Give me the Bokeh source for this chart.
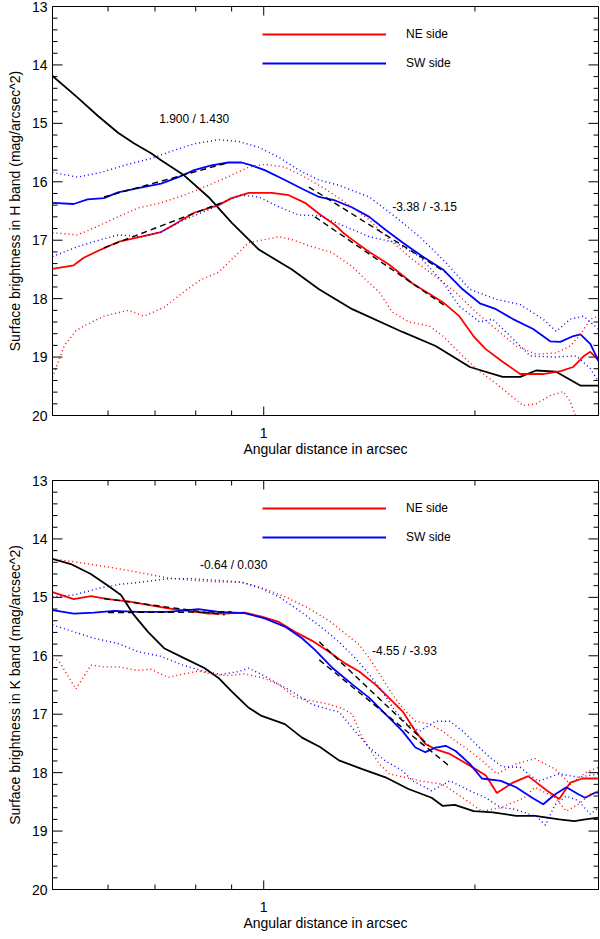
from bokeh.plotting import figure
from bokeh.layouts import column
from bokeh.models import (Range1d, FixedTicker, BasicTickFormatter, Legend, LegendItem)
from bokeh.core.properties import value
from bokeh.embed import file_html
from bokeh.resources import INLINE

FONT = "Liberation Sans"

# ---------------- H band (top panel) ----------------
h_psf_x = [0.50, 0.543, 0.58, 0.62, 0.653, 0.691, 0.714, 0.77, 0.834, 0.90, 0.984, 1.097,
           1.199, 1.337, 1.577, 1.758, 1.967, 2.19, 2.32, 2.444, 2.61, 2.83, 3.0]
h_psf_y = [14.19, 14.56, 14.87, 15.16, 15.34, 15.51, 15.63, 15.89, 16.26, 16.70, 17.16, 17.50,
           17.84, 18.18, 18.57, 18.81, 19.17, 19.34, 19.34, 19.23, 19.25, 19.49, 19.49]

h_ne_x = [0.50, 0.536, 0.554, 0.586, 0.62, 0.669, 0.714, 0.756, 0.796, 0.862, 0.90, 0.952,
          1.027, 1.086, 1.145, 1.20, 1.264, 1.30, 1.337, 1.414, 1.51, 1.63, 1.80, 1.90, 1.99,
          2.07, 2.19, 2.32, 2.50, 2.65, 2.76, 2.86, 2.92, 3.0]
h_ne_y = [17.49, 17.43, 17.30, 17.16, 17.03, 16.94, 16.86, 16.69, 16.53, 16.40, 16.28, 16.19,
          16.19, 16.23, 16.36, 16.55, 16.74, 16.88, 16.99, 17.20, 17.42, 17.74, 18.06, 18.30,
          18.64, 18.86, 19.08, 19.29, 19.29, 19.24, 19.17, 18.98, 18.91, 19.05]

h_sw_x = [0.50, 0.536, 0.561, 0.592, 0.62, 0.662, 0.714, 0.756, 0.796, 0.842, 0.891, 0.93,
          0.961, 1.003, 1.072, 1.134, 1.199, 1.264, 1.337, 1.414, 1.491, 1.577, 1.684, 1.80,
          1.921, 2.032, 2.143, 2.266, 2.421, 2.56, 2.646, 2.763, 2.828, 2.922, 3.0]
h_sw_y = [16.36, 16.38, 16.30, 16.28, 16.18, 16.11, 16.03, 15.92, 15.80, 15.72, 15.67, 15.67,
          15.72, 15.80, 15.97, 16.12, 16.26, 16.32, 16.44, 16.60, 16.82, 17.04, 17.28, 17.50,
          17.84, 18.08, 18.18, 18.35, 18.52, 18.73, 18.74, 18.64, 18.61, 18.78, 19.07]

h_sw_hi_x = [0.50, 0.543, 0.586, 0.632, 0.691, 0.746, 0.796, 0.862, 0.921, 0.984, 1.051, 1.122,
             1.199, 1.28, 1.414, 1.54, 1.668, 1.817, 1.967, 2.143, 2.32, 2.50, 2.612, 2.735,
             2.855, 3.0]
h_sw_hi_y = [15.84, 15.92, 15.84, 15.72, 15.60, 15.46, 15.35, 15.28, 15.31, 15.41, 15.58, 15.80,
             15.97, 16.06, 16.26, 16.60, 16.94, 17.38, 17.84, 18.01, 18.10, 18.35, 18.56, 18.35,
             18.30, 18.52]

h_sw_lo_x = [0.50, 0.543, 0.586, 0.62, 0.669, 0.714, 0.77, 0.834, 0.891, 0.93, 0.984, 1.051,
             1.122, 1.199, 1.28, 1.414, 1.54, 1.668, 1.80, 1.90, 2.032, 2.12, 2.244, 2.398,
             2.586, 2.79, 2.922, 3.0]
h_sw_lo_y = [17.28, 17.11, 16.99, 16.91, 16.94, 16.86, 16.65, 16.48, 16.31, 16.23, 16.26, 16.43,
             16.57, 16.58, 16.72, 16.94, 17.04, 17.28, 17.72, 18.13, 18.40, 18.35, 18.64, 18.98,
             19.00, 18.98, 19.20, 19.42]

h_ne_hi_x = [0.50, 0.543, 0.573, 0.62, 0.662, 0.714, 0.77, 0.834, 0.891, 0.952, 1.003, 1.072,
             1.145, 1.223, 1.306, 1.414, 1.51, 1.63, 1.758, 1.877, 2.006, 2.143, 2.289, 2.444,
             2.612, 2.735, 2.828, 2.922, 3.0]
h_ne_hi_y = [16.87, 16.91, 16.79, 16.60, 16.45, 16.36, 16.23, 16.06, 15.91, 15.75, 15.70, 15.75,
             15.92, 16.12, 16.35, 16.65, 16.99, 17.33, 17.62, 17.89, 18.23, 18.52, 18.81, 18.95,
             18.93, 18.81, 18.61, 18.35, 18.30]

h_ne_lo_x = [0.50, 0.52, 0.54, 0.554, 0.592, 0.641, 0.675, 0.721, 0.770, 0.815, 0.862, 0.90,
             0.952, 1.003, 1.051, 1.097, 1.171, 1.251, 1.337, 1.382, 1.461, 1.525, 1.613, 1.723,
             1.80, 1.921, 2.006, 2.10, 2.214, 2.342, 2.444, 2.56, 2.673, 2.735, 2.79]
h_ne_lo_y = [19.35, 18.80, 18.55, 18.47, 18.30, 18.20, 18.30, 18.15, 17.88, 17.67, 17.55, 17.33,
             17.04, 16.99, 16.94, 16.99, 17.11, 17.21, 17.45, 17.62, 17.89, 18.23, 18.40, 18.47,
             18.64, 18.98, 19.20, 19.37, 19.59, 19.83, 19.80, 19.66, 19.59, 19.76, 20.05]

# power-law fits (inner NE, inner SW, outer NE, outer SW)
h_fit_x0 = [0.592, 0.592, 1.183, 1.16]
h_fit_x1 = [0.87, 0.891, 1.817, 1.817]
h_fit_y0 = [17.13, 16.26, 16.60, 16.09]
h_fit_y1 = [16.36, 15.67, 18.13, 17.55]

h_note_x = [0.796, 1.695]
h_note_y = [14.92, 16.43]
h_notes = ["1.900 / 1.430", "-3.38 / -3.15"]

# ---------------- K band (bottom panel) ----------------
k_psf_x = [0.50, 0.531, 0.567, 0.60, 0.626, 0.653, 0.684, 0.721, 0.770, 0.823, 0.862, 0.90,
           0.952, 0.993, 1.072, 1.134, 1.203, 1.28, 1.382, 1.491, 1.608, 1.735, 1.80, 1.872,
           1.992, 2.121, 2.289, 2.437, 2.637, 2.771, 2.873, 3.0]
k_psf_y = [14.34, 14.43, 14.60, 14.80, 14.96, 15.30, 15.59, 15.87, 16.04, 16.21, 16.38, 16.61,
           16.89, 17.03, 17.17, 17.40, 17.56, 17.79, 17.94, 18.08, 18.28, 18.43, 18.57, 18.55,
           18.66, 18.68, 18.74, 18.74, 18.80, 18.83, 18.80, 18.77]

k_ne_x = [0.50, 0.536, 0.567, 0.60, 0.641, 0.684, 0.731, 0.789, 0.834, 0.88, 0.939, 0.993,
          1.051, 1.108, 1.171, 1.239, 1.306, 1.368, 1.442, 1.491, 1.577, 1.645, 1.70, 1.758,
          1.842, 1.967, 2.073, 2.149, 2.266, 2.382, 2.535, 2.637, 2.735, 2.846, 3.0]
k_ne_y = [14.91, 15.03, 14.98, 15.03, 15.07, 15.13, 15.19, 15.24, 15.28, 15.28, 15.26, 15.33,
          15.42, 15.59, 15.74, 15.93, 16.13, 16.27, 16.49, 16.66, 16.95, 17.29, 17.51, 17.60,
          17.68, 17.88, 18.05, 18.35, 18.17, 18.06, 18.31, 18.45, 18.17, 18.10, 18.10]

k_sw_x = [0.50, 0.536, 0.573, 0.612, 0.662, 0.731, 0.807, 0.862, 0.939, 1.003, 1.072, 1.134,
          1.183, 1.251, 1.337, 1.414, 1.491, 1.577, 1.645, 1.70, 1.758, 1.817, 1.877, 1.967,
          2.046, 2.178, 2.289, 2.413, 2.502, 2.603, 2.70, 2.808, 2.87, 2.97, 3.0]
k_sw_y = [15.22, 15.28, 15.26, 15.23, 15.25, 15.25, 15.20, 15.25, 15.27, 15.36, 15.50, 15.70,
          15.90, 16.20, 16.49, 16.72, 17.00, 17.29, 17.57, 17.65, 17.57, 17.54, 17.63, 17.85,
          18.10, 18.14, 18.25, 18.43, 18.54, 18.37, 18.25, 18.37, 18.43, 18.34, 18.34]

k_ne_hi_x = [0.50, 0.543, 0.60, 0.662, 0.731, 0.796, 0.87, 0.93, 1.003, 1.072, 1.16, 1.239,
             1.30, 1.368, 1.414, 1.475, 1.525, 1.577, 1.645, 1.723, 1.80, 1.877, 1.967, 2.05,
             2.149, 2.289, 2.437, 2.603, 2.735, 2.873, 3.0]
k_ne_hi_y = [14.34, 14.40, 14.48, 14.57, 14.67, 14.71, 14.74, 14.74, 14.85, 14.99, 15.19, 15.40,
             15.60, 15.81, 16.04, 16.38, 16.66, 16.89, 17.12, 17.17, 17.29, 17.46, 17.63, 17.80,
             18.02, 17.85, 17.76, 17.94, 18.20, 18.00, 17.91]

k_sw_hi_x = [0.50, 0.536, 0.58, 0.62, 0.669, 0.731, 0.789, 0.862, 0.93, 0.993, 1.051, 1.122,
             1.199, 1.28, 1.35, 1.414, 1.475, 1.54, 1.60, 1.668, 1.758, 1.842, 1.921, 2.006,
             2.10, 2.19, 2.32, 2.46, 2.637, 2.808, 3.0]
k_sw_hi_y = [14.99, 14.96, 14.85, 14.78, 14.74, 14.68, 14.68, 14.71, 14.74, 14.85, 14.99, 15.22,
             15.48, 15.76, 16.04, 16.32, 16.61, 16.95, 17.17, 17.29, 17.12, 17.12, 17.29, 17.51,
             17.74, 17.90, 17.91, 18.15, 18.02, 18.08, 18.02]

k_sw_lo_x = [0.50, 0.536, 0.573, 0.62, 0.662, 0.714, 0.763, 0.823, 0.87, 0.921, 0.952, 0.993,
             1.051, 1.097, 1.171, 1.239, 1.28, 1.35, 1.414, 1.491, 1.577, 1.63, 1.735, 1.842,
             1.967, 2.073, 2.178, 2.266, 2.45, 2.52, 2.60, 2.70, 2.808, 2.92, 3.0]
k_sw_lo_y = [15.47, 15.59, 15.70, 15.79, 15.93, 16.01, 16.15, 16.27, 16.32, 16.27, 16.21, 16.32,
             16.49, 16.61, 16.83, 16.92, 16.96, 17.29, 17.57, 17.80, 17.97, 18.14, 18.31, 18.14,
             18.31, 18.43, 18.60, 18.62, 18.75, 18.90, 18.55, 18.40, 18.48, 18.71, 18.60]

k_ne_lo_x = [0.50, 0.51, 0.54, 0.567, 0.592, 0.62, 0.662, 0.691, 0.731, 0.770, 0.807, 0.842,
             0.891, 0.939, 0.993, 1.051, 1.108, 1.171, 1.239, 1.293, 1.337, 1.382, 1.461, 1.51,
             1.668, 1.80, 1.921, 2.046, 2.178, 2.35, 2.437, 2.603, 2.70, 2.808, 2.92, 3.0]
k_ne_lo_y = [16.05, 16.08, 16.57, 16.16, 16.19, 16.19, 16.25, 16.23, 16.37, 16.31, 16.26, 16.31,
             16.34, 16.31, 16.37, 16.49, 16.71, 16.77, 16.83, 16.90, 17.00, 17.40, 17.85, 18.02,
             18.14, 18.20, 18.43, 18.66, 18.60, 18.43, 18.25, 18.43, 18.66, 18.54, 18.37, 18.31]

k_fit_x0 = [0.592, 0.60, 1.20, 1.20]
k_fit_x1 = [0.88, 0.90, 1.72, 1.84]
k_fit_y0 = [15.02, 15.26, 15.76, 16.07]
k_fit_y1 = [15.30, 15.25, 17.54, 17.89]

k_note_x = [0.906, 1.587]
k_note_y = [14.44, 15.92]
k_notes = ["-0.64 / 0.030", "-4.55 / -3.93"]

# axis ticks
x_major = [1]
x_minor = [0.6, 0.7, 0.8, 0.9, 2]
y_major = [13, 14, 15, 16, 17, 18, 19, 20]
y_minor = [m + k * 0.2 for m in y_major[:-1] for k in (1, 2, 3, 4)]

X_LO, X_HI = 0.5, 3.0
Y_LO, Y_HI = 20, 13

RED = "#ff0000"
BLUE = "#0000ff"
WIDTH = 600
B_LEFT, B_RIGHT = 52, 2


def box_ticks(p, frame_w, frame_h):
    # IDL-style inward ticks on all four sides of the box
    xstep = (X_HI / X_LO) ** (1.0 / frame_w)   # factor per pixel on the log axis
    ystep = (Y_LO - Y_HI) / frame_h            # magnitudes per pixel
    tk = dict(line_color="black", line_width=1)
    for vals, ln in ((y_major, 10), (y_minor, 5)):
        n = len(vals)
        p.segment(x0=[X_LO] * n, x1=[X_LO * xstep ** ln] * n, y0=vals, y1=vals, **tk)
        p.segment(x0=[X_HI] * n, x1=[X_HI / xstep ** ln] * n, y0=vals, y1=vals, **tk)
    for vals, ln in ((x_major, 9), (x_minor, 5)):
        n = len(vals)
        p.segment(x0=vals, x1=vals, y0=[Y_LO] * n, y1=[Y_LO - ystep * ln] * n, **tk)
        p.segment(x0=vals, x1=vals, y0=[Y_HI] * n, y1=[Y_HI + ystep * ln] * n, **tk)


def make_panel(band, d, height, top, bottom):
    p = figure(width=WIDTH, height=height, x_axis_type="log",
               x_range=Range1d(X_LO, X_HI), y_range=Range1d(Y_LO, Y_HI),
               output_backend="svg", toolbar_location=None,
               min_border_left=B_LEFT, min_border_right=B_RIGHT,
               min_border_top=top, min_border_bottom=bottom)
    p.grid.visible = False
    p.outline_line_color = "black"
    p.outline_line_width = 1

    p.xaxis.ticker = FixedTicker(ticks=x_major, minor_ticks=x_minor)
    p.xaxis.formatter = BasicTickFormatter()
    p.xaxis.axis_label = "Angular distance in arcsec"
    p.yaxis.ticker = FixedTicker(ticks=y_major, minor_ticks=y_minor)
    p.yaxis.axis_label = "Surface brightness in %s band (mag/arcsec^2)" % band
    for ax in (p.xaxis[0], p.yaxis[0]):
        ax.major_tick_in = 0
        ax.major_tick_out = 0
        ax.minor_tick_in = 0
        ax.minor_tick_out = 0
        ax.axis_line_color = "black"
        ax.major_label_text_font = FONT
        ax.major_label_text_font_size = "14px"
        ax.major_label_text_color = "black"
        ax.axis_label_text_font = FONT
        ax.axis_label_text_font_size = "14px"
        ax.axis_label_text_font_style = "normal"
        ax.axis_label_text_color = "black"
    p.xaxis.major_label_standoff = 12
    p.xaxis.axis_label_standoff = 0
    p.yaxis.major_label_standoff = 5
    p.yaxis.axis_label_standoff = 6

    frame_w = WIDTH - B_LEFT - B_RIGHT
    frame_h = height - top - bottom
    box_ticks(p, frame_w, frame_h)

    p.line(d["psf_x"], d["psf_y"], line_color="black", line_width=1.8)
    ne = p.line(d["ne_x"], d["ne_y"], line_color=RED, line_width=1.8)
    sw = p.line(d["sw_x"], d["sw_y"], line_color=BLUE, line_width=1.8)
    p.line(d["ne_hi_x"], d["ne_hi_y"], line_color=RED, line_width=1.4, line_dash="1 3")
    p.line(d["ne_lo_x"], d["ne_lo_y"], line_color=RED, line_width=1.4, line_dash="1 3")
    p.line(d["sw_hi_x"], d["sw_hi_y"], line_color=BLUE, line_width=1.4, line_dash="1 3")
    p.line(d["sw_lo_x"], d["sw_lo_y"], line_color=BLUE, line_width=1.4, line_dash="1 3")
    p.segment(x0=d["fit_x0"], y0=d["fit_y0"], x1=d["fit_x1"], y1=d["fit_y1"],
              line_color="black", line_width=1.4, line_dash="6 4")

    p.text(x=d["note_x"], y=d["note_y"], text=d["notes"], text_font=value(FONT),
           text_font_size="12px", text_align="center", text_baseline="middle",
           text_color="black")

    # legend: rows ~28 and ~57 px below the frame top, line starting at x = 1
    legend = Legend(items=[LegendItem(label="NE side", renderers=[ne]),
                           LegendItem(label="SW side", renderers=[sw])],
                    location=(210, frame_h - 18 - 49), padding=0, margin=0, spacing=9,
                    glyph_width=124, glyph_height=20, label_height=20,
                    label_standoff=20, label_text_font=FONT,
                    label_text_font_size="12px", label_text_color="black",
                    background_fill_alpha=0, border_line_color=None)
    p.add_layout(legend, "center")
    return p


h_data = dict(psf_x=h_psf_x, psf_y=h_psf_y, ne_x=h_ne_x, ne_y=h_ne_y, sw_x=h_sw_x, sw_y=h_sw_y,
              ne_hi_x=h_ne_hi_x, ne_hi_y=h_ne_hi_y, ne_lo_x=h_ne_lo_x, ne_lo_y=h_ne_lo_y,
              sw_hi_x=h_sw_hi_x, sw_hi_y=h_sw_hi_y, sw_lo_x=h_sw_lo_x, sw_lo_y=h_sw_lo_y,
              fit_x0=h_fit_x0, fit_x1=h_fit_x1, fit_y0=h_fit_y0, fit_y1=h_fit_y1,
              note_x=h_note_x, note_y=h_note_y, notes=h_notes)
k_data = dict(psf_x=k_psf_x, psf_y=k_psf_y, ne_x=k_ne_x, ne_y=k_ne_y, sw_x=k_sw_x, sw_y=k_sw_y,
              ne_hi_x=k_ne_hi_x, ne_hi_y=k_ne_hi_y, ne_lo_x=k_ne_lo_x, ne_lo_y=k_ne_lo_y,
              sw_hi_x=k_sw_hi_x, sw_hi_y=k_sw_hi_y, sw_lo_x=k_sw_lo_x, sw_lo_y=k_sw_lo_y,
              fit_x0=k_fit_x0, fit_x1=k_fit_x1, fit_y0=k_fit_y0, fit_y1=k_fit_y1,
              note_x=k_note_x, note_y=k_note_y, notes=k_notes)

p1 = make_panel("H", h_data, 472, 6, 57)
p2 = make_panel("K", k_data, 464, 8, 47)

p = column(p1, p2, spacing=0)
open("out.html", "w").write(file_html(p, INLINE))
